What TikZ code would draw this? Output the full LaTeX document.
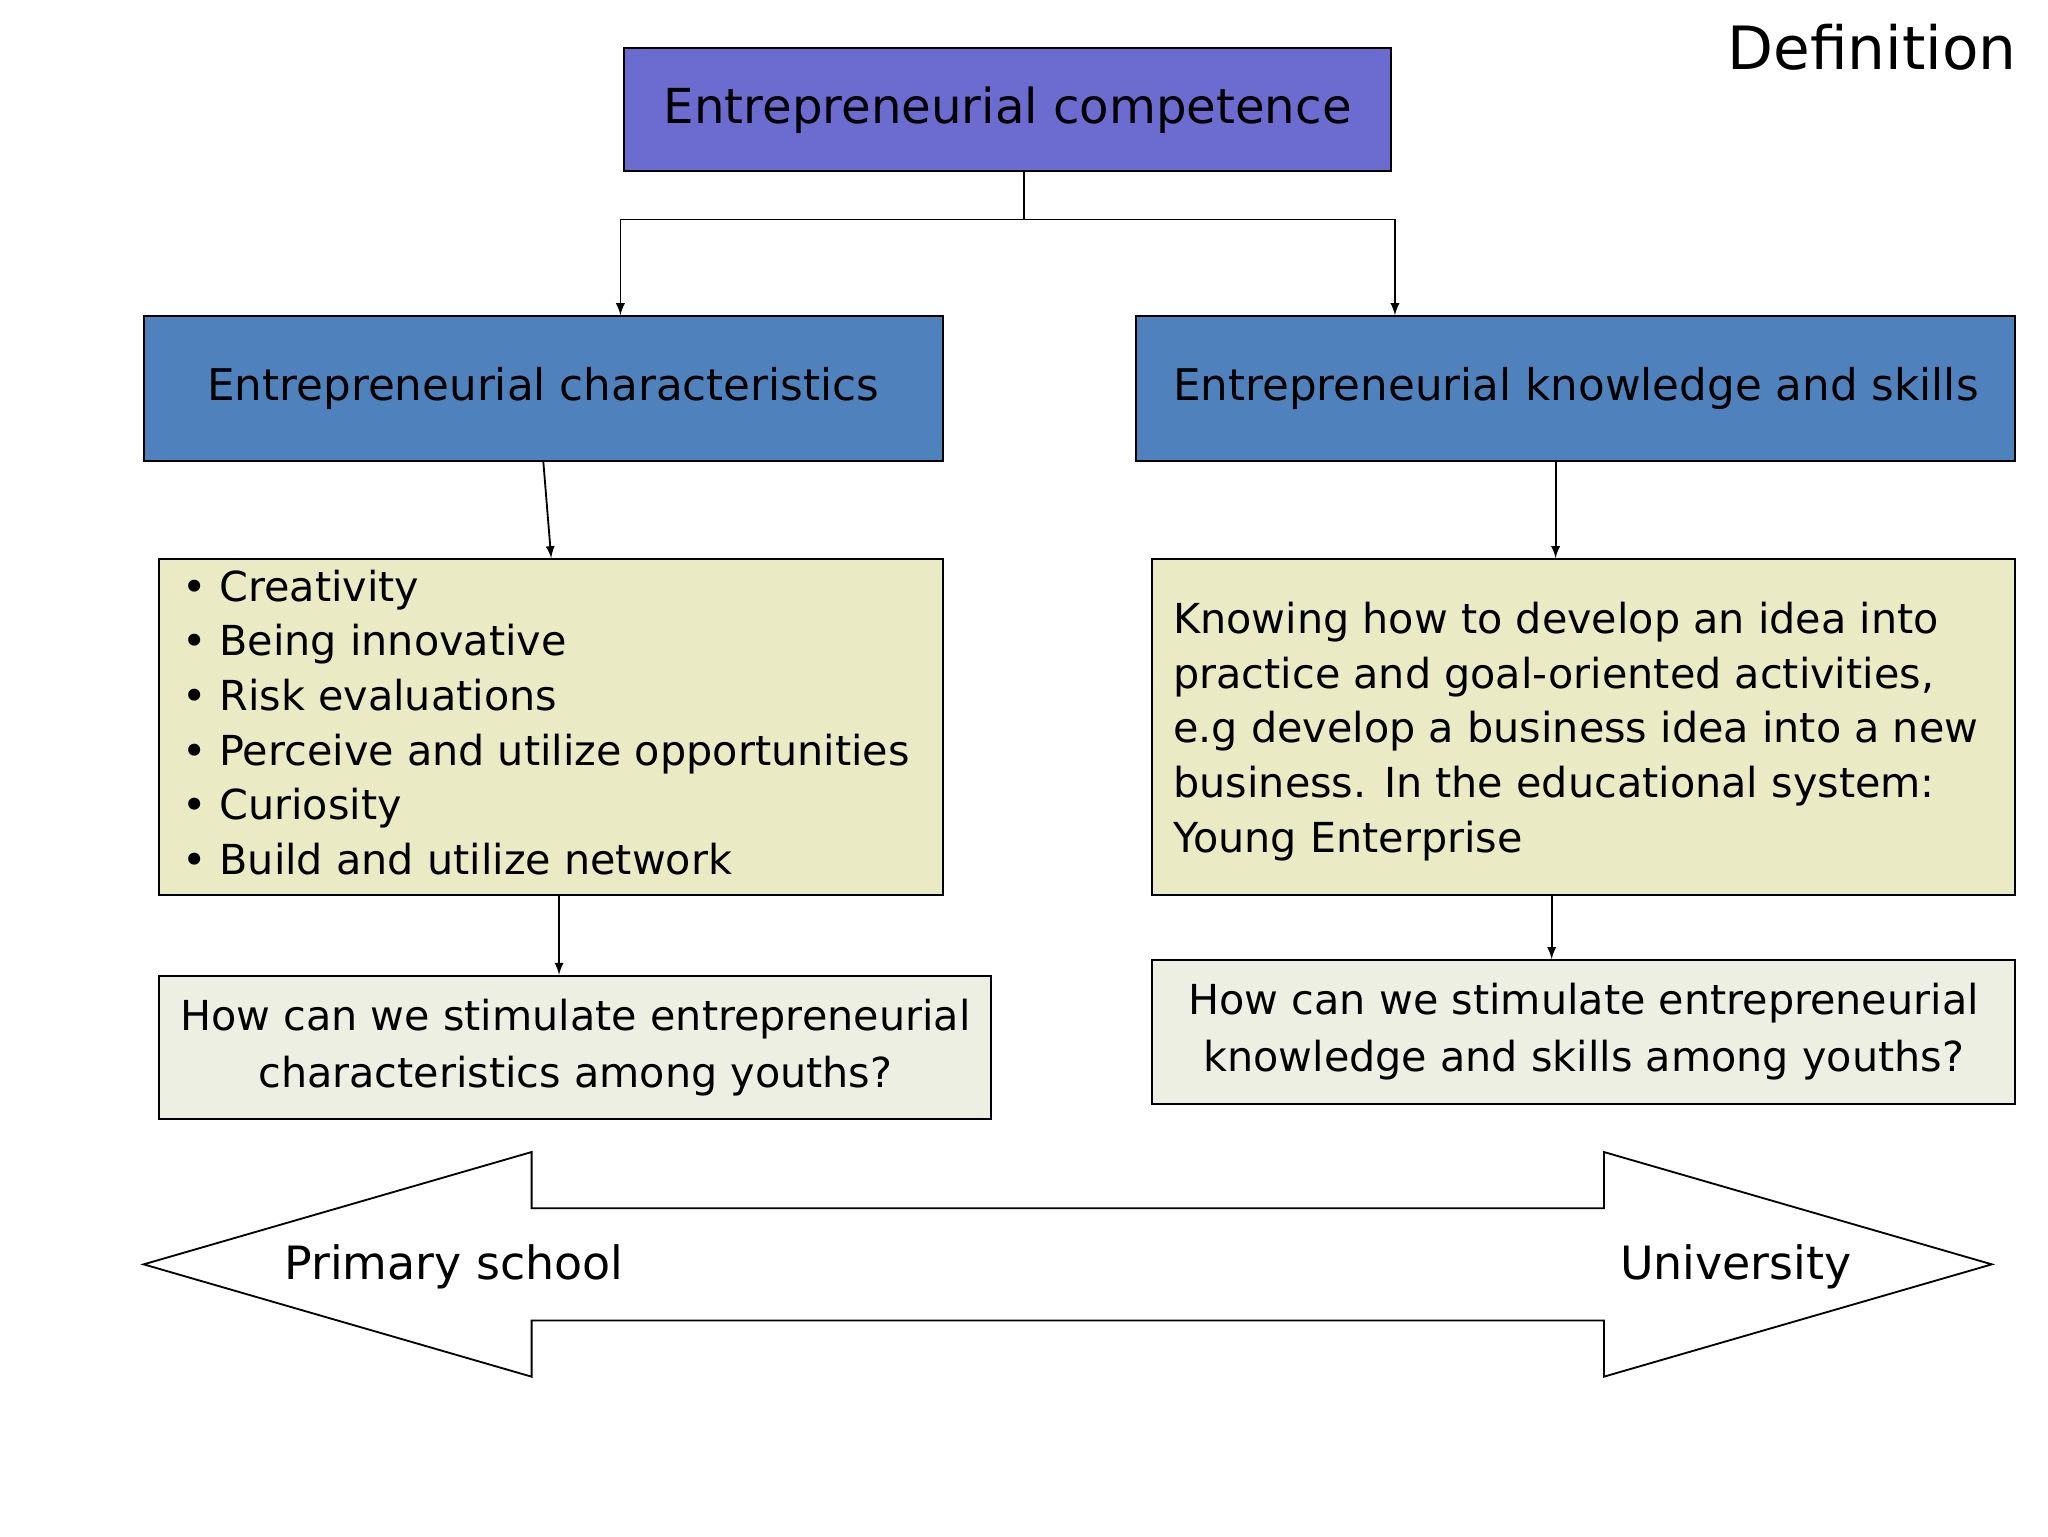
\documentclass[tikz,border=0pt]{standalone}
\usepackage{fontspec}
\setmainfont{DejaVu Sans}
\begin{document}
\begin{tikzpicture}[
  box/.style={draw=black, line width=0.8pt, inner sep=0pt, align=center, font=\fontsize{18}{25}\selectfont},
  conn/.style={-latex, line width=0.8pt}]
\useasboundingbox[fill=white] (0,0) rectangle (31.36,-23.52);
\node[anchor=north east, font=\fontsize{26}{30}\selectfont] (def) at (31.0,-0.25) {Definition};
\node[box, fill={rgb,255:red,107;green,107;blue,208}, minimum width=11.74cm, minimum height=1.88cm, font=\fontsize{21}{26}\selectfont] (top) at (15.43,-1.68) {Entrepreneurial competence};
\node[box, fill={rgb,255:red,79;green,129;blue,189}, minimum width=12.24cm, minimum height=2.22cm, font=\fontsize{19}{26}\selectfont] (lb) at (8.32,-5.95) {Entrepreneurial characteristics};
\node[box, fill={rgb,255:red,79;green,129;blue,189}, minimum width=13.46cm, minimum height=2.22cm, font=\fontsize{19}{26}\selectfont] (rb) at (24.13,-5.95) {Entrepreneurial knowledge and skills};
\node[box, fill={rgb,255:red,234;green,234;blue,196}, minimum width=12.0cm, minimum height=5.14cm] (ly) at (8.44,-11.13) {};
\node[anchor=north west, align=left, inner sep=0pt, font=\fontsize{18}{23.8}\selectfont] (lyt) at (2.78,-8.72) {• Creativity\\• Being innovative\\• Risk evaluations\\• Perceive and utilize opportunities\\• Curiosity\\• Build and utilize network};
\node[box, fill={rgb,255:red,234;green,234;blue,196}, minimum width=13.22cm, minimum height=5.14cm] (ry) at (24.25,-11.13) {};
\node[anchor=west, align=left, inner sep=0pt, font=\fontsize{18}{23.8}\selectfont] (ryt) at (17.96,-11.2) {Knowing how to develop an idea into\\practice and goal-oriented activities,\\e.g develop a business idea into a new\\business. In the educational system:\\Young Enterprise};
\node[box, fill={rgb,255:red,238;green,239;blue,227}, minimum width=12.74cm, minimum height=2.2cm] (lq) at (8.81,-16.04) {How can we stimulate entrepreneurial\\characteristics among youths?};
\node[box, fill={rgb,255:red,238;green,239;blue,227}, minimum width=13.22cm, minimum height=2.2cm] (rq) at (24.25,-15.8) {How can we stimulate entrepreneurial\\knowledge and skills among youths?};
\coordinate (j) at (15.68,-3.36);
\draw[line width=0.8pt] (15.68,0 |- top.south) -- (j);
\draw[conn] (j) -| (9.5,0 |- lb.north);
\draw[conn] (j) -| (21.36,0 |- rb.north);
\draw[conn] (lb.south) -- (ly.north);
\draw[conn] (23.82,0 |- rb.south) -- (23.82,0 |- ry.north);
\draw[conn] (8.56,0 |- ly.south) -- (8.56,0 |- lq.north);
\draw[conn] (23.76,0 |- ry.south) -- (23.76,0 |- rq.north);
\draw[line width=0.8pt, fill=white] (2.2,-19.36) -- (8.14,-17.64) -- (8.14,-18.5) -- (24.56,-18.5) -- (24.56,-17.64) -- (30.5,-19.36) -- (24.56,-21.08) -- (24.56,-20.22) -- (8.14,-20.22) -- (8.14,-21.08) -- cycle;
\node[font=\fontsize{20}{24}\selectfont] (ps) at (6.95,-19.4) {Primary school};
\node[font=\fontsize{20}{24}\selectfont] (un) at (26.58,-19.4) {University};
\end{tikzpicture}
\end{document}
